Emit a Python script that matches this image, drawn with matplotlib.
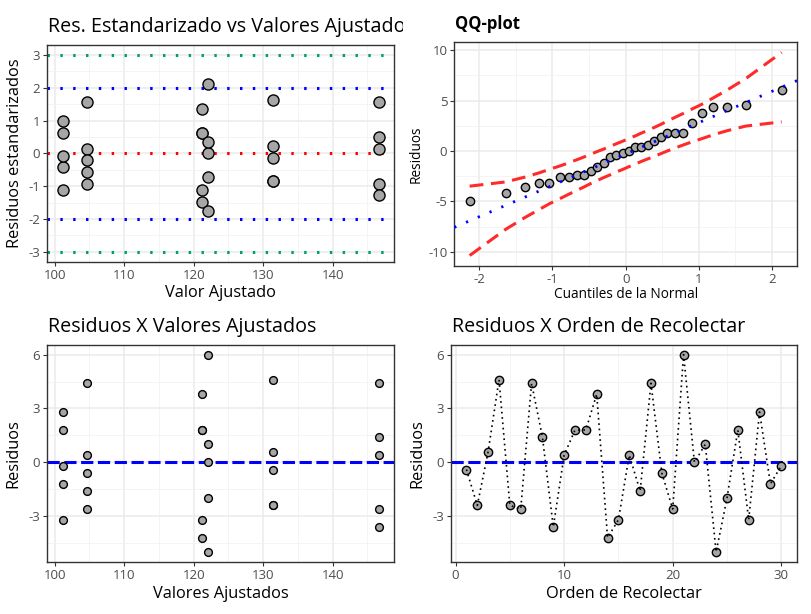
import numpy as np
import matplotlib
matplotlib.use("Agg")
import matplotlib.pyplot as plt
from matplotlib.ticker import MultipleLocator
from matplotlib.transforms import Bbox

plt.rcParams['font.family'] = ['Open Sans', 'DejaVu Sans']
plt.rcParams['axes.unicode_minus'] = False

# datos (orden de recolección 1..30)
orden = list(range(1, 31))
residuos = [-0.4, -2.4, 0.6, 4.6, -2.4, -2.6, 4.4, 1.4, -3.6, 0.4,
            1.8, 1.8, 3.8, -4.2, -3.2, 0.4, -1.6, 4.4, -0.6, -2.6,
            6.0, 0.0, 1.0, -5.0, -2.0, 1.8, -3.2, 2.8, -1.2, -0.2]
ajustados = [131.4, 131.4, 131.4, 131.4, 131.4, 146.6, 146.6, 146.6, 146.6, 146.6,
             121.2, 121.2, 121.2, 121.2, 121.2, 104.6, 104.6, 104.6, 104.6, 104.6,
             122.0, 122.0, 122.0, 122.0, 122.0, 101.2, 101.2, 101.2, 101.2, 101.2]
res_estandar = [-0.14, -0.85, 0.21, 1.62, -0.85, -0.92, 1.55, 0.49, -1.27, 0.14,
                0.63, 0.63, 1.34, -1.48, -1.13, 0.14, -0.56, 1.55, -0.21, -0.92,
                2.12, 0.00, 0.35, -1.76, -0.71, 0.63, -1.13, 0.99, -0.42, -0.07]

# QQ-plot
cuantiles_normal = [-2.13, -1.64, -1.38, -1.19, -1.04, -0.90, -0.78, -0.67, -0.57, -0.48,
                    -0.39, -0.30, -0.21, -0.13, -0.04, 0.04, 0.13, 0.21, 0.30, 0.39,
                    0.48, 0.57, 0.67, 0.78, 0.90, 1.04, 1.19, 1.38, 1.64, 2.13]
banda_sup = [-3.49, -3.07, -2.60, -2.19, -1.82, -1.49, -1.18, -0.88, -0.60, -0.33,
             -0.06, 0.19, 0.45, 0.71, 0.97, 1.23, 1.49, 1.76, 2.04, 2.33,
             2.64, 2.97, 3.32, 3.70, 4.14, 4.63, 5.24, 6.02, 7.18, 9.77]
banda_inf = [-10.37, -7.78, -6.62, -5.84, -5.23, -4.74, -4.30, -3.92, -3.57, -3.24,
             -2.93, -2.64, -2.36, -2.09, -1.83, -1.57, -1.31, -1.05, -0.79, -0.54,
             -0.27, 0.00, 0.28, 0.58, 0.89, 1.22, 1.59, 2.00, 2.47, 2.89]
qq_intercepto = -0.3
qq_pendiente = 3.11

W, H = 811, 614
fig = plt.figure(figsize=(W / 100, H / 100), dpi=100)

GRIS = '#A6A6A6'
TXT = '#4D4D4D'
F_TIT = 14.2
F_EJE = 11.8
F_TICK = 9.5
PUNTOS = (0, (0.8, 3.4))


def ejes(izq, arriba, der, abajo):
    ax = fig.add_axes([izq / W, 1 - abajo / H, (der - izq) / W, (abajo - arriba) / H])
    ax.set_facecolor('white')
    for s in ax.spines.values():
        s.set_color('#333333')
        s.set_linewidth(1.0)
    ax.grid(True, which='major', color='#EBEBEB', lw=1.1, zorder=0)
    ax.grid(True, which='minor', color='#F2F2F2', lw=0.6, zorder=0)
    ax.set_axisbelow(True)
    ax.tick_params(which='major', length=3, width=0.8, color='#333333',
                   labelsize=F_TICK, labelcolor=TXT, pad=2)
    ax.tick_params(which='minor', length=0)
    return ax


def texto(x, y, s, **kw):
    return fig.text(x / W, 1 - y / H, s, **kw)


# --- Panel 1: residuos estandarizados ---
ax1 = ejes(47.3, 45, 394.3, 261.7)
ax1.axhline(3, color='#009E73', lw=2.2, ls=PUNTOS, zorder=2)
ax1.axhline(-3, color='#009E73', lw=2.2, ls=PUNTOS, zorder=2)
ax1.axhline(2, color='blue', lw=2.2, ls=PUNTOS, zorder=2)
ax1.axhline(-2, color='blue', lw=2.2, ls=PUNTOS, zorder=2)
ax1.axhline(0, color='red', lw=2.2, ls=PUNTOS, zorder=2)
ax1.plot(ajustados, res_estandar, 'o', ms=8, mfc=GRIS, mec='black', mew=1.0, zorder=3)
ax1.set_xlim(98.93, 148.87)
ax1.set_ylim(-3.3, 3.3)
ax1.xaxis.set_major_locator(MultipleLocator(10))
ax1.xaxis.set_minor_locator(MultipleLocator(5))
ax1.yaxis.set_major_locator(MultipleLocator(1))
ax1.yaxis.set_minor_locator(MultipleLocator(0.5))
t1 = texto(48, 32, 'Res. Estandarizado vs Valores Ajustados', fontsize=F_TIT, va='baseline')
t1.set_clip_box(Bbox.from_extents(0, 0, 403, H))
t1.set_clip_on(True)
texto(220.8, 293, 'Valor Ajustado', fontsize=F_EJE, ha='center', va='center')
texto(15.5, 153.3, 'Residuos estandarizados', fontsize=F_EJE, ha='center', va='center',
      rotation=90)

# --- Panel 2: QQ-plot ---
ax2 = ejes(454.3, 42.3, 797, 265.7)
ax2.plot(cuantiles_normal, banda_sup, color='#FF2A2A', lw=2.2, ls=(0, (4.5, 2.5)), zorder=2)
ax2.plot(cuantiles_normal, banda_inf, color='#FF2A2A', lw=2.2, ls=(0, (4.5, 2.5)), zorder=2)
ax2.plot(cuantiles_normal, np.sort(residuos), 'o', ms=6, mfc=GRIS, mec='black', mew=1.0,
         zorder=3)
ax2.axline((0, qq_intercepto), slope=qq_pendiente, color='blue', lw=2.0,
           ls=(0, (0.8, 3.8)), zorder=4)
ax2.set_xlim(-2.34, 2.34)
ax2.set_ylim(-11.38, 10.78)
ax2.xaxis.set_major_locator(MultipleLocator(1))
ax2.xaxis.set_minor_locator(MultipleLocator(0.5))
ax2.yaxis.set_major_locator(MultipleLocator(5))
ax2.yaxis.set_minor_locator(MultipleLocator(2.5))
texto(454.5, 29.3, 'QQ-plot', fontsize=12, fontweight='bold', va='baseline')
texto(625.7, 295, 'Cuantiles de la Normal', fontsize=9.8, ha='center', va='center')
texto(416, 154, 'Residuos', fontsize=9.8, ha='center', va='center', rotation=90)

# --- Panel 3: residuos vs ajustados ---
ax3 = ejes(47.3, 344.7, 394.3, 562)
ax3.axhline(0, color='blue', lw=2.2, ls=(0, (4, 1.5)), zorder=2)
ax3.plot(ajustados, residuos, 'o', ms=5.6, mfc=GRIS, mec='black', mew=1.0, zorder=3)
ax3.set_xlim(98.93, 148.87)
ax3.set_ylim(-5.55, 6.55)
ax3.xaxis.set_major_locator(MultipleLocator(10))
ax3.xaxis.set_minor_locator(MultipleLocator(5))
ax3.yaxis.set_major_locator(MultipleLocator(3))
ax3.yaxis.set_minor_locator(MultipleLocator(1.5))
texto(48, 332, 'Residuos X Valores Ajustados', fontsize=F_TIT, va='baseline')
texto(220.8, 593.5, 'Valores Ajustados', fontsize=F_EJE, ha='center', va='center')
texto(13.5, 453.3, 'Residuos', fontsize=F_EJE, ha='center', va='center', rotation=90)

# --- Panel 4: residuos vs orden ---
ax4 = ejes(450.7, 344.7, 797, 562)
ax4.axhline(0, color='blue', lw=2.2, ls=(0, (4, 1.5)), zorder=2)
ax4.plot(orden, residuos, 'o', ms=6, mfc=GRIS, mec='black', mew=1.0, zorder=3)
ax4.plot(orden, residuos, color='black', lw=1.2, ls=(0, (1, 2.2)), zorder=4)
ax4.set_xlim(-0.45, 31.45)
ax4.set_ylim(-5.55, 6.55)
ax4.xaxis.set_major_locator(MultipleLocator(10))
ax4.xaxis.set_minor_locator(MultipleLocator(5))
ax4.yaxis.set_major_locator(MultipleLocator(3))
ax4.yaxis.set_minor_locator(MultipleLocator(1.5))
texto(451.5, 332, 'Residuos X Orden de Recolectar', fontsize=F_TIT, va='baseline')
texto(623.8, 594, 'Orden de Recolectar', fontsize=F_EJE, ha='center', va='center')
texto(417.5, 453.3, 'Residuos', fontsize=F_EJE, ha='center', va='center', rotation=90)

fig.savefig('out.png', dpi=100)
